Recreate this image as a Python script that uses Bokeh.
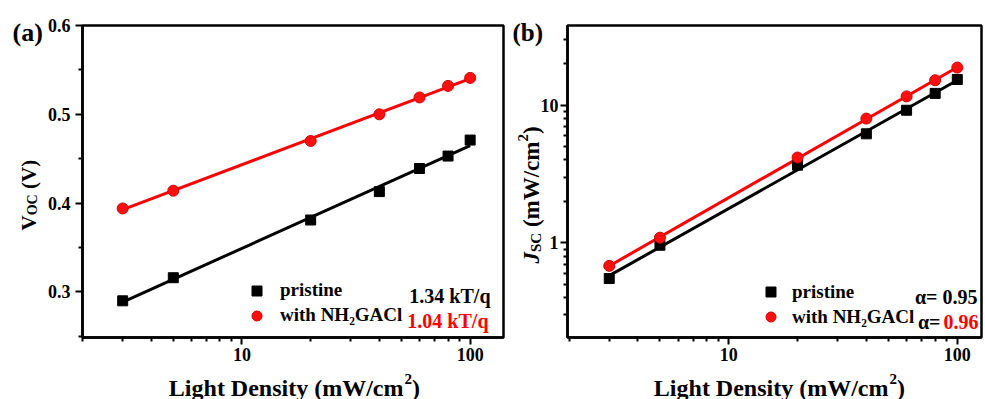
import math
import numpy as np
from bokeh.plotting import figure
from bokeh.layouts import row
from bokeh.models import (Range1d, FixedTicker, NumeralTickFormatter, Label,
                          Legend, LegendItem)
from bokeh.core.properties import value
from bokeh.embed import file_html
from bokeh.resources import INLINE

# ---------------- data ----------------
light = [3, 5, 20, 40, 60, 80, 100]
voc_pristine = [0.290, 0.316, 0.381, 0.413, 0.439, 0.453, 0.471]
voc_nh2 = [0.394, 0.414, 0.470, 0.500, 0.519, 0.532, 0.541]
jsc_pristine = [0.55, 0.96, 3.67, 6.2, 9.2, 12.2, 15.4]
jsc_nh2 = [0.68, 1.09, 4.17, 8.0, 11.6, 15.2, 18.8]

x_major = [10, 100]
voc_major = [0.3, 0.4, 0.5, 0.6]
voc_minor = [0.25, 0.35, 0.45, 0.55]
jsc_major = [1, 10]

slope_a = ["1.34 kT/q", "1.04 kT/q"]
alpha_b = ["α= 0.95", "0.96"]
series_names = ["pristine", "with NH₂GACl"]

FONT = "Liberation Serif"
RED = "#ff0000"
FRAME_H = 312


def log_minors(decades):
    return [m * d for d in decades for m in range(2, 10)]


def style(p, xstand, ystand):
    p.xgrid.visible = False
    p.ygrid.visible = False
    p.outline_line_color = "black"
    p.outline_line_width = 2.5
    p.background_fill_color = "white"
    p.border_fill_color = "white"
    for ax, st in ((p.xaxis, xstand), (p.yaxis, ystand)):
        ax.axis_line_width = 2.5
        ax.axis_line_color = "black"
        ax.major_tick_line_width = 2
        ax.minor_tick_line_width = 2
        ax.major_tick_in = 0
        ax.major_tick_out = 7
        ax.minor_tick_in = 0
        ax.minor_tick_out = 4
        ax.major_label_text_font = FONT
        ax.major_label_text_font_style = "bold"
        ax.major_label_text_font_size = "18px"
        ax.major_label_text_color = "black"
        ax.major_label_standoff = st
        ax.axis_label = None


def lab(p, x, y, text, size, color="black", fstyle="bold", align="left"):
    """label inside the frame (x from frame left, y from frame bottom)"""
    p.add_layout(Label(x=x, y=y, x_units="screen", y_units="screen", text=text,
                       text_font=FONT, text_font_size=f"{size}px",
                       text_font_style=fstyle, text_color=color,
                       text_align=align, text_baseline="alphabetic"))


def to_data(lo, hi, span, is_log, d):
    if is_log:
        a, b = math.log10(lo), math.log10(hi)
        return 10 ** (a + d / span * (b - a))
    return lo + d / span * (hi - lo)


def otext(p, cfg, dx, dy, text, size, color="black", fstyle="bold", align="left", angle=0.0):
    """text outside the frame, drawn as an unclipped overlay-level text glyph.
    dx: px from frame left, dy: px from frame bottom (upwards)."""
    (xlo, xhi, fw, xlog), (ylo, yhi, fh, ylog) = cfg
    xd = to_data(xlo, xhi, fw, xlog, dx)
    yd = to_data(ylo, yhi, fh, ylog, dy)
    p.text(x=[xd], y=[yd], text=[text], text_font=value(FONT),
           text_font_size=value(f"{size}px"), text_font_style=value(fstyle),
           text_color=value(color), text_align=value(align),
           text_baseline=value("alphabetic"), angle=angle, level="overlay")


def xlabel(p, cfg, xr):
    otext(p, cfg, xr, -50, "Light Density (mW/cm", 24, align="right")
    otext(p, cfg, xr + 1, -41, "2", 15)
    otext(p, cfg, xr + 8.5, -50, ")", 24)


def add_legend(p, r1, r2, loc, standoff):
    leg = Legend(items=[LegendItem(label=value(series_names[0]), renderers=[r1]),
                        LegendItem(label=value(series_names[1]), renderers=[r2])],
                 location=loc)
    leg.border_line_color = None
    leg.background_fill_alpha = 0
    leg.padding = 0
    leg.margin = 0
    leg.spacing = 0
    leg.glyph_width = 25
    leg.glyph_height = 25
    leg.label_height = 25
    leg.label_standoff = standoff
    leg.label_text_font = FONT
    leg.label_text_font_style = "bold"
    leg.label_text_font_size = "19px"
    leg.label_text_color = "black"
    p.add_layout(leg)


# ---------------- panel (a) ----------------
A_X = (2, 140)
A_Y = (0.2487, 0.6)
A_W = 508 - 82 - 5
cfg_a = ((A_X[0], A_X[1], A_W, True), (A_Y[0], A_Y[1], FRAME_H, False))

p1 = figure(width=508, height=399, x_axis_type="log",
            x_range=Range1d(*A_X), y_range=Range1d(*A_Y),
            output_backend="svg", toolbar_location=None,
            min_border_left=82, min_border_right=5,
            min_border_top=25, min_border_bottom=62)
style(p1, 3, 5)
p1.xaxis.ticker = FixedTicker(ticks=x_major, minor_ticks=log_minors([1, 10]))
p1.xaxis.formatter = NumeralTickFormatter(format="0")
p1.yaxis.ticker = FixedTicker(ticks=voc_major, minor_ticks=voc_minor)

lx = np.log10(light)
xs_fit = np.array([light[0], light[-1]], dtype=float)
for ys, col in ((voc_pristine, "black"), (voc_nh2, RED)):
    k, b = np.polyfit(lx, ys, 1)
    p1.line(xs_fit, k * np.log10(xs_fit) + b, line_color=col, line_width=3)

s1 = p1.scatter(light, voc_pristine, marker="square", size=10,
                fill_color="black", line_color="black")
c1 = p1.scatter(light, voc_nh2, marker="circle", size=11,
                fill_color="#ff1010", line_color="#d80000", line_width=1)

add_legend(p1, s1, c1, (162, 9.5), 11)
lab(p1, 408, 42, slope_a[0], 20, align="right")
lab(p1, 406, 17, slope_a[1], 20, color=RED, align="right")

otext(p1, cfg_a, -70, 305, "(a)", 26)
# y label V_OC (V), rotated
otext(p1, cfg_a, -54, 107, "V", 21, angle=math.pi / 2)
otext(p1, cfg_a, -50, 122.2, "OC", 14, angle=math.pi / 2)
otext(p1, cfg_a, -54, 148.5, "(V)", 21, angle=math.pi / 2)
xlabel(p1, cfg_a, 321)

# ---------------- panel (b) ----------------
B_X = (1.97, 127.6)
B_Y = (0.205, 38)
B_W = 477 - 59 - 4
cfg_b = ((B_X[0], B_X[1], B_W, True), (B_Y[0], B_Y[1], FRAME_H, True))

p2 = figure(width=477, height=399, x_axis_type="log", y_axis_type="log",
            x_range=Range1d(*B_X), y_range=Range1d(*B_Y),
            output_backend="svg", toolbar_location=None,
            min_border_left=59, min_border_right=4,
            min_border_top=25, min_border_bottom=62)
style(p2, 3, 2)
p2.xaxis.ticker = FixedTicker(ticks=x_major, minor_ticks=log_minors([1, 10]))
p2.xaxis.formatter = NumeralTickFormatter(format="0")
p2.yaxis.ticker = FixedTicker(ticks=jsc_major, minor_ticks=log_minors([0.1, 1, 10]))
p2.yaxis.formatter = NumeralTickFormatter(format="0")

for ys, col in ((jsc_pristine, "black"), (jsc_nh2, RED)):
    k, b = np.polyfit(lx, np.log10(ys), 1)
    p2.line(xs_fit, 10 ** (k * np.log10(xs_fit) + b), line_color=col, line_width=3)

s2 = p2.scatter(light, jsc_pristine, marker="square", size=10,
                fill_color="black", line_color="black")
c2 = p2.scatter(light, jsc_nh2, marker="circle", size=11,
                fill_color="#ff1010", line_color="#d80000", line_width=1)

add_legend(p2, s2, c2, (191, 8), 9)
lab(p2, 410, 41, alpha_b[0], 20, align="right")
lab(p2, 411, 16, alpha_b[1], 20, color=RED, align="right")
lab(p2, 373, 16, "α=", 20, align="right")

otext(p2, cfg_b, -55, 305, "(b)", 25)
# y label J_SC (mW/cm^2), rotated
otext(p2, cfg_b, -36, 74, "J", 23, fstyle="bold italic", angle=math.pi / 2)
otext(p2, cfg_b, -32, 85.5, "SC", 15, angle=math.pi / 2)
otext(p2, cfg_b, -36, 110.4, "(mW/cm", 23, angle=math.pi / 2)
otext(p2, cfg_b, -45, 196, "2", 15, angle=math.pi / 2)
otext(p2, cfg_b, -36, 203.5, ")", 23, angle=math.pi / 2)
xlabel(p2, cfg_b, 321)

layout = row(p1, p2)
open("out.html", "w").write(file_html(layout, INLINE))
